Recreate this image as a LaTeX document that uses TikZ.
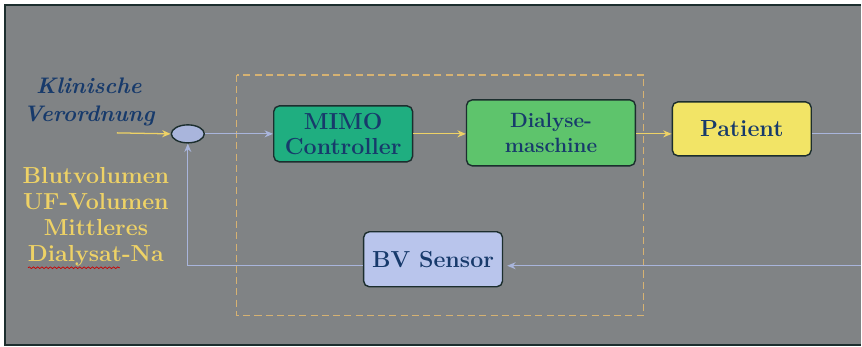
\documentclass[tikz,border=0pt]{standalone}
\usepackage{xcolor}
\usepackage{tikz}
\usetikzlibrary{
    positioning,
    arrows.meta,
    calc,
    shapes.geometric,
    decorations.pathmorphing
}
\definecolor{bggray}{HTML}{808385}
\definecolor{navy}{HTML}{173A6B}
\definecolor{ylw}{HTML}{EED266}
\definecolor{lav}{HTML}{A9B5DC}
\definecolor{tealg}{HTML}{1FAE80}
\definecolor{lgreen}{HTML}{5EC46C}
\definecolor{pyellow}{HTML}{F2E466}
\definecolor{bvfill}{HTML}{B9C5EC}
\definecolor{edge}{HTML}{1C2E2E}
\definecolor{tan}{HTML}{D6B272}

\tikzset{
    block/.style={draw=edge, line width=1pt, rounded corners=4pt, text=navy,
        font=\fontsize{16.5}{17.7}\selectfont\bfseries, align=center,
        minimum width=3.475cm, inner sep=0pt},
    yarrow/.style={-{Stealth[length=6pt, width=5pt]}, ylw, line width=0.9pt},
    larrow/.style={-{Stealth[length=6pt, width=5pt]}, lav, line width=0.8pt}
}

\begin{document}
\begin{tikzpicture}[x=0.025cm, y=-0.025cm]
    % Hintergrund und Rahmen
    \fill[white] (0,0) rectangle (862,347);
    \fill[bggray] (5,5) rectangle (862,345);
    \draw[edge, line width=1.2pt] (862,5) -- (5,5) -- (5,345) -- (862,345);
    \useasboundingbox (0,0) rectangle (862,347);

    % Regelkreis-Rahmen
    \draw[tan, dash pattern=on 5pt off 3pt, line width=0.9pt] (237,75) rectangle (644,316);

    % Bloecke
    \node[ellipse, draw=edge, fill=lav, line width=1pt, minimum width=0.825cm,
        minimum height=0.45cm, inner sep=0pt] (sum) at (188,134) {};
    \node[block, fill=tealg, minimum height=1.4cm] (mimo) at (343.5,134) {MIMO\\Controller};
    \node[block, fill=lgreen, minimum width=4.225cm, minimum height=1.65cm,
        font=\fontsize{14.7}{17.5}\selectfont\bfseries] (dialyse) at (551.5,133) {Dialyse-\\maschine};
    \node[block, fill=pyellow, minimum height=1.35cm,
        font=\fontsize{16.6}{18}\selectfont\bfseries] (patient) at (742.5,129) {Patient};
    \node[block, fill=bvfill, minimum height=1.375cm] (bv) at (433.5,259.5) {BV Sensor};

    % Texte links
    \node[navy, font=\fontsize{16}{20}\selectfont\bfseries\itshape, align=center]
        (verord) at (89,102) {Klinische\\Verordnung};
    \node[ylw, font=\fontsize{16.5}{18.5}\selectfont\bfseries, align=center]
        (groessen) at (96,217) {Blutvolumen\\UF-Volumen\\Mittleres\\Dialysat-Na};
    \draw[red!80!black, line width=0.5pt, decorate,
        decoration={snake, amplitude=0.6pt, segment length=3pt}] (28,268) -- (120,268);

    % Verbindungen
    \coordinate (in) at (117,133);
    \coordinate (outR) at (862,134);
    \coordinate (fbR) at (862,266);
    \coordinate (fbL) at (188,266);
    \draw[yarrow] (in) -- (sum.west);
    \draw[larrow] (sum.east) -- (mimo.west);
    \draw[yarrow] (mimo.east) -- (mimo.east -| dialyse.west);
    \draw[yarrow] (dialyse.east |- 0,134) -- (patient.west |- 0,134);
    \draw[lav, line width=0.8pt] (patient.east |- outR) -- (outR);
    \draw[larrow] (fbR) -- ($(fbR -| bv.east) + (4,0)$);
    \draw[larrow] (fbR -| bv.west) -- (fbL) -- (sum.south);
\end{tikzpicture}
\end{document}
